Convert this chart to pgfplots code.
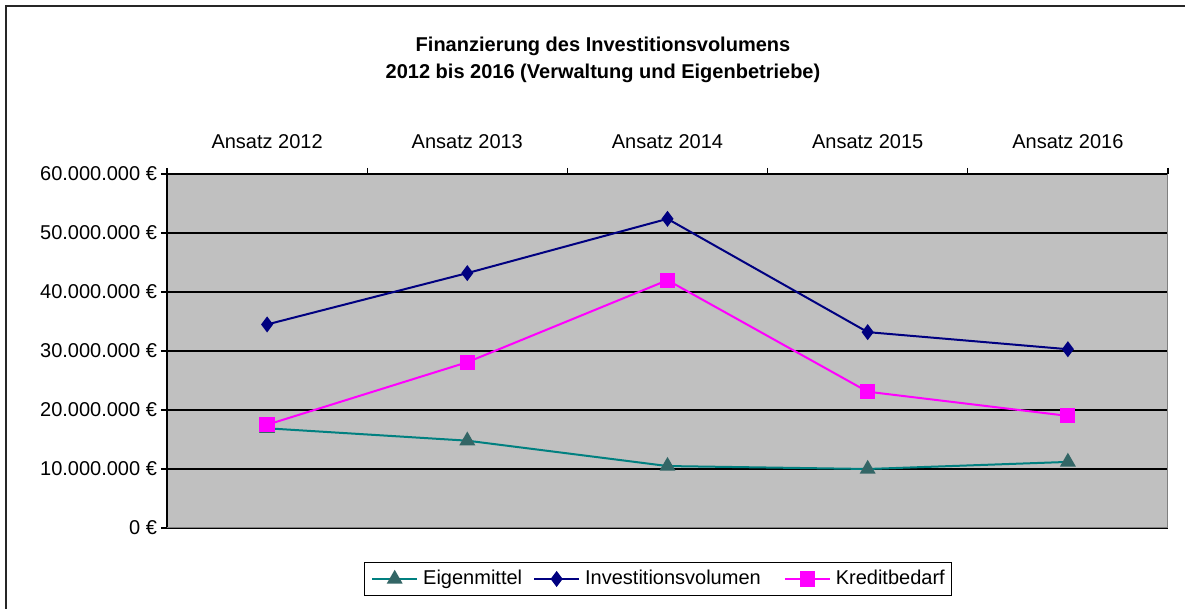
\documentclass[border=0pt]{standalone}
\usepackage{fontspec}
\setmainfont{Liberation Sans}
\usepackage{pgfplots}
\pgfplotsset{compat=1.18}
\definecolor{navyc}{HTML}{000080}
\definecolor{magc}{HTML}{FF00FF}
\definecolor{tealc}{HTML}{008080}
\definecolor{slatec}{HTML}{336666}
\definecolor{bgc}{HTML}{C0C0C0}
\begin{document}
\begin{tikzpicture}
\useasboundingbox (0,0) rectangle (592.5pt,-304.5pt);
\draw[line width=1pt,black!85] (3.2pt,-306pt) -- (3.2pt,-3.2pt) -- (594pt,-3.2pt);
\node[align=center,font=\fontsize{10}{13.5}\selectfont\bfseries] at (301.5pt,-30pt)
  {Finanzierung des Investitionsvolumens\\2012 bis 2016 (Verwaltung und Eigenbetriebe)};
\begin{axis}[
  at={(83.5pt,-87pt)}, anchor=north west,
  width=500.5pt, height=177pt, scale only axis,
  xmin=-0.5, xmax=4.5, ymin=0, ymax=60000000,
  axis x line*=top, axis y line*=left,
  axis line style={-, black, line width=0.6pt},
  axis background/.style={fill=bgc},
  xtick={-0.5,0.5,1.5,2.5,3.5,4.5},
  x tick label as interval,
  xticklabels={Ansatz 2012,Ansatz 2013,Ansatz 2014,Ansatz 2015,Ansatz 2016},
  ytick={0,10000000,20000000,30000000,40000000,50000000,60000000},
  yticklabels={0 €,10.000.000 €,20.000.000 €,30.000.000 €,40.000.000 €,50.000.000 €,60.000.000 €},
  scaled y ticks=false,
  tick align=outside, major tick length=3pt,
  tick style={black, line width=0.6pt},
  ymajorgrids, grid style={black, line width=0.6pt},
  ticklabel style={font=\fontsize{10}{12}\selectfont},
  xticklabel style={yshift=6pt},
  yticklabel style={xshift=1.5pt},
  legend columns=3,
  legend style={at={(0.4905,-0.144)}, anchor=center, draw=black, line width=0.6pt,
    font=\fontsize{10}{12}\selectfont, inner ysep=2pt, inner xsep=3.5pt,
    column sep=0pt,
    nodes={inner xsep=0pt},
    /tikz/column 1/.style={column sep=2.5pt},
    /tikz/column 2/.style={column sep=5.5pt},
    /tikz/column 3/.style={column sep=2.5pt},
    /tikz/column 4/.style={column sep=11.5pt},
    /tikz/column 5/.style={column sep=2.5pt}},
  legend image code/.code={\draw[mark repeat=2,mark phase=2] plot coordinates {(0pt,0pt) (11.25pt,0pt) (22.5pt,0pt)};},
]
\draw[gray, line width=1pt] (rel axis cs:0,0) -- (rel axis cs:1,0) -- (rel axis cs:1,1);
\addplot[tealc, line width=1pt, mark=triangle*, mark size=3.6pt, mark options={solid, fill=slatec, draw=slatec}]
  coordinates {(0,16900000) (1,14800000) (2,10500000) (3,10000000) (4,11200000)};
\addlegendentry{Eigenmittel}
\addplot[navyc, line width=1pt, mark=diamond*, mark size=3.2pt, mark options={solid, fill=navyc}]
  coordinates {(0,34500000) (1,43200000) (2,52400000) (3,33200000) (4,30300000)};
\addlegendentry{Investitionsvolumen}
\addplot[magc, line width=1pt, mark=square*, mark size=3.3pt, mark options={solid, fill=magc}]
  coordinates {(0,17500000) (1,28100000) (2,42000000) (3,23100000) (4,19000000)};
\addlegendentry{Kreditbedarf}
\end{axis}
\end{tikzpicture}
\end{document}
